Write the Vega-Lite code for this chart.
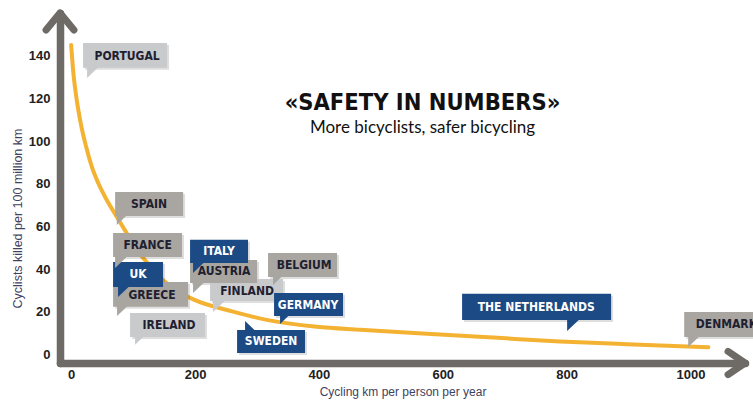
{
  "$schema": "https://vega.github.io/schema/vega-lite/v6.json",
  "width": 685,
  "height": 350,
  "autosize": {"type": "none"},
  "padding": {"left": 60, "top": 13, "right": 8, "bottom": 40},
  "background": "white",
  "config": {"view": {"stroke": null}},
  "title": {
    "text": "«SAFETY IN NUMBERS»",
    "subtitle": "More bicyclists, safer bicycling",
    "anchor": "middle",
    "font": "DejaVu Sans Condensed, Liberation Sans",
    "fontSize": 23.5,
    "fontWeight": "bold",
    "color": "#111111",
    "subtitleFont": "Lato",
    "subtitleFontSize": 17,
    "subtitleColor": "#111111",
    "subtitlePadding": 5,
    "dx": 20,
    "dy": 130
  },
  "datasets": {
    "curve": [
      {"km": 0, "killed": 145.0},
      {"km": 3.6, "killed": 131.8},
      {"km": 9.0, "killed": 119.3},
      {"km": 15.5, "killed": 108.3},
      {"km": 24.1, "killed": 97.4},
      {"km": 33.3, "killed": 88.0},
      {"km": 43.9, "killed": 80.2},
      {"km": 57.5, "killed": 72.4},
      {"km": 73.6, "killed": 64.6},
      {"km": 89.8, "killed": 56.8},
      {"km": 105.9, "killed": 49.0},
      {"km": 122.1, "killed": 43.2},
      {"km": 138.2, "killed": 37.6},
      {"km": 165, "killed": 31.0},
      {"km": 197.3, "killed": 25.8},
      {"km": 261.4, "killed": 20.1},
      {"km": 315.8, "killed": 16.2},
      {"km": 396.6, "killed": 13.0},
      {"km": 466.5, "killed": 11.6},
      {"km": 574.2, "killed": 9.7},
      {"km": 681.7, "killed": 7.9},
      {"km": 789.4, "killed": 6.1},
      {"km": 897.1, "killed": 4.8},
      {"km": 1028.9, "killed": 3.4}
    ],
    "bubbles": [
      {"country": "PORTUGAL", "group": "light", "tail": "down", "bx1": 19.2, "bx2": 154.9, "by1": 146.0, "by2": 134.3, "lx": 90.3, "ly": 140.0, "tx": 25.7, "ty": 129.6},
      {"country": "IRELAND", "group": "light", "tail": "down", "bx1": 95.1, "bx2": 216.2, "by1": 19.4, "by2": 8.2, "lx": 158.1, "ly": 13.8, "tx": 103.2, "ty": 4.5},
      {"country": "GREECE", "group": "mid", "tail": "down", "bx1": 67.7, "bx2": 188.8, "by1": 34.0, "by2": 22.3, "lx": 130.6, "ly": 27.9, "tx": 74.1, "ty": 18.0},
      {"country": "UK", "group": "blue", "tail": "down", "bx1": 67.7, "bx2": 148.4, "by1": 43.3, "by2": 31.6, "lx": 108.0, "ly": 37.5, "tx": 75.7, "ty": 26.9},
      {"country": "FRANCE", "group": "mid", "tail": "down", "bx1": 67.7, "bx2": 179.0, "by1": 56.9, "by2": 45.7, "lx": 123.4, "ly": 51.3, "tx": 70.9, "ty": 40.5},
      {"country": "SPAIN", "group": "mid", "tail": "down", "bx1": 71.0, "bx2": 180.8, "by1": 76.1, "by2": 64.9, "lx": 125.8, "ly": 70.5, "tx": 73.6, "ty": 60.7},
      {"country": "FINLAND", "group": "light", "tail": "down", "bx1": 224.3, "bx2": 342.2, "by1": 35.4, "by2": 25.1, "lx": 284.0, "ly": 29.8, "tx": 229.1, "ty": 19.9},
      {"country": "AUSTRIA", "group": "mid", "tail": "down", "bx1": 192.0, "bx2": 300.2, "by1": 44.3, "by2": 33.5, "lx": 246.9, "ly": 38.9, "tx": 196.8, "ty": 28.8},
      {"country": "ITALY", "group": "blue", "tail": "down", "bx1": 192.0, "bx2": 285.6, "by1": 53.7, "by2": 42.9, "lx": 238.8, "ly": 48.3, "tx": 196.8, "ty": 38.2},
      {"country": "BELGIUM", "group": "mid", "tail": "down", "bx1": 317.9, "bx2": 429.3, "by1": 47.6, "by2": 36.3, "lx": 376.2, "ly": 41.9, "tx": 326.0, "ty": 32.6},
      {"country": "GERMANY", "group": "blue", "tail": "down", "bx1": 327.6, "bx2": 439.0, "by1": 28.8, "by2": 18.0, "lx": 382.6, "ly": 23.4, "tx": 337.3, "ty": 14.3},
      {"country": "SWEDEN", "group": "blue", "tail": "up", "bx1": 267.9, "bx2": 377.6, "by1": 11.5, "by2": 0.7, "lx": 322.8, "ly": 6.1, "tx": 280.8, "ty": 15.7},
      {"country": "THE NETHERLANDS", "group": "blue", "tail": "down", "bx1": 631.2, "bx2": 871.8, "by1": 28.4, "by2": 16.2, "lx": 750.8, "ly": 22.3, "tx": 800.8, "ty": 11.0},
      {"country": "DENMARK", "group": "mid", "tail": "down", "bx1": 989.8, "bx2": 1120, "by1": 19.9, "by2": 8.2, "lx": 1058, "ly": 14.1, "tx": 996.3, "ty": 3.5}
    ],
    "arrows": [
      {"km": -18, "killed": 160, "dir": "up"},
      {"km": 1088, "killed": -4, "dir": "right"}
    ]
  },
  "resolve": {"scale": {"shape": "independent"}},
  "layer": [
    {
      "data": {"name": "curve"},
      "mark": {"type": "line", "interpolate": "monotone", "color": "#f4b233", "strokeWidth": 4, "strokeCap": "round"},
      "encoding": {
        "x": {
          "field": "km", "type": "quantitative",
          "scale": {"domain": [-18, 1088], "nice": false, "zero": false},
          "axis": {
            "values": [0, 200, 400, 600, 800, 1000],
            "format": "d",
            "grid": false,
            "domainColor": "#6e6a65",
            "domainWidth": 7.5,
            "domainCap": "round",
            "tickColor": "white",
            "tickSize": -4,
            "tickWidth": 1.5,
            "labelFont": "Liberation Sans",
            "labelFontWeight": "bold",
            "labelFontSize": 13,
            "labelColor": "#222222",
            "labelPadding": 9,
            "title": "Cycling km per person per year",
            "titleFont": "Liberation Sans",
            "titleFontSize": 12,
            "titleFontWeight": "normal",
            "titleColor": "#3f4260",
            "titlePadding": 5
          }
        },
        "y": {
          "field": "killed", "type": "quantitative",
          "scale": {"domain": [-4, 160], "nice": false, "zero": false},
          "axis": {
            "values": [0, 20, 40, 60, 80, 100, 120, 140],
            "grid": false,
            "domainColor": "#6e6a65",
            "domainWidth": 7.5,
            "domainCap": "round",
            "tickColor": "white",
            "tickSize": 4,
            "tickWidth": 1.5,
            "labelFont": "Liberation Sans",
            "labelFontWeight": "bold",
            "labelFontSize": 13,
            "labelColor": "#222222",
            "labelPadding": 6,
            "title": "Cyclists killed per 100 million km",
            "titleFont": "Liberation Sans",
            "titleFontSize": 12.5,
            "titleFontWeight": "normal",
            "titleColor": "#3f4260",
            "titlePadding": 4,
            "titleY": 205
          }
        }
      }
    },
    {
      "data": {"name": "arrows"},
      "mark": {"type": "point", "filled": false, "color": "#6e6a65", "strokeWidth": 7, "strokeCap": "round", "strokeJoin": "round", "opacity": 1, "size": 900},
      "encoding": {
        "x": {"field": "km", "type": "quantitative"},
        "y": {"field": "killed", "type": "quantitative"},
        "shape": {
          "field": "dir", "type": "nominal", "legend": null,
          "scale": {"domain": ["up", "right"], "range": ["M-0.93,1.13L0,0L0.93,1.13", "M-1.13,-0.77L0,0L-1.13,0.77"]}
        }
      }
    },
    {
      "data": {"name": "bubbles"},
      "mark": {"type": "rect", "color": "#000000", "opacity": 0.13, "xOffset": 2, "x2Offset": 2, "yOffset": 2, "y2Offset": 2},
      "encoding": {
        "x": {"field": "bx1", "type": "quantitative"},
        "x2": {"field": "bx2"},
        "y": {"field": "by1", "type": "quantitative"},
        "y2": {"field": "by2"}
      }
    },
    {
      "data": {"name": "bubbles"},
      "mark": {"type": "rect", "opacity": 1},
      "encoding": {
        "x": {"field": "bx1", "type": "quantitative"},
        "x2": {"field": "bx2"},
        "y": {"field": "by1", "type": "quantitative"},
        "y2": {"field": "by2"},
        "color": {
          "field": "group", "type": "nominal", "legend": null,
          "scale": {"domain": ["blue", "mid", "light"], "range": ["#1c4a84", "#a9a6a1", "#c9cacc"]}
        }
      }
    },
    {
      "data": {"name": "bubbles"},
      "mark": {"type": "point", "filled": true, "opacity": 1, "size": 121, "strokeWidth": 0},
      "encoding": {
        "x": {"field": "tx", "type": "quantitative"},
        "y": {"field": "ty", "type": "quantitative"},
        "shape": {
          "field": "tail", "type": "nominal", "legend": null,
          "scale": {"domain": ["down", "up"], "range": ["M0,0L0,-2.2L2.3,-2.2Z", "M0,0L0,2.2L2.3,2.2Z"]}
        },
        "color": {"field": "group", "type": "nominal", "legend": null}
      }
    },
    {
      "data": {"name": "bubbles"},
      "mark": {"type": "text", "font": "DejaVu Sans Condensed, Liberation Sans", "fontWeight": "bold", "fontSize": 12, "align": "center", "baseline": "middle"},
      "encoding": {
        "x": {"field": "lx", "type": "quantitative"},
        "y": {"field": "ly", "type": "quantitative"},
        "text": {"field": "country"},
        "color": {"condition": {"test": "datum.group === 'blue'", "value": "#ffffff"}, "value": "#1e2030"}
      }
    }
  ]
}
